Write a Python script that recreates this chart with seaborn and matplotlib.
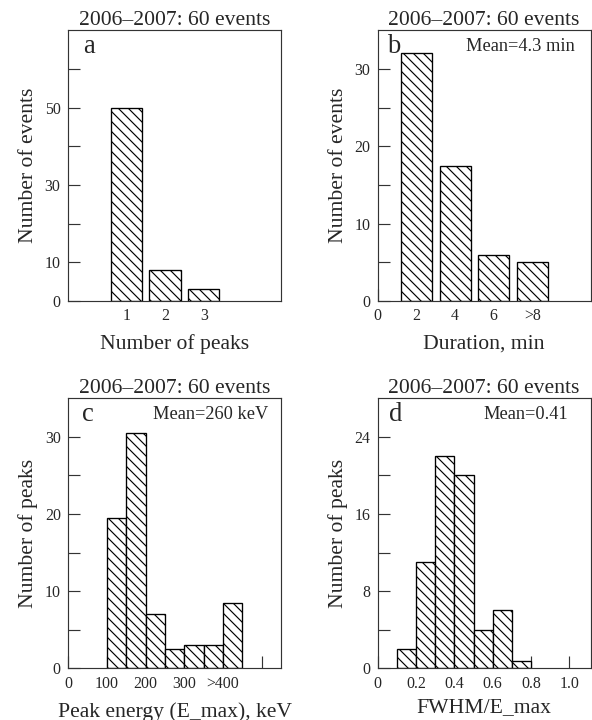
import matplotlib
matplotlib.use("Agg")
import matplotlib.pyplot as plt
import numpy as np
import seaborn as sns

# ---- data -----------------------------------------------------------------
title_text = "2006\u20132007: 60 events"

peak_numbers = [1, 2, 3]
events_per_peak_number = [50, 8, 3]

duration_centers = [2, 4, 6, 8]
events_per_duration = [32, 17.5, 6, 5]
duration_ticks = [0, 2, 4, 6, 8]
duration_tick_labels = ["0", "2", "4", "6", ">8"]

energy_edges = [100, 150, 200, 250, 300, 350, 400, 450]
peaks_per_energy = [19.5, 30.5, 7, 2.5, 3, 3, 8.5]
energy_ticks = [0, 100, 200, 300, 400, 500]
energy_tick_labels = ["0", "100", "200", "300", ">400", ""]

width_edges = [0.1, 0.2, 0.3, 0.4, 0.5, 0.6, 0.7, 0.8]
peaks_per_width = [2, 11, 22, 20, 4, 6, 0.8]
width_ticks = [0, 0.2, 0.4, 0.6, 0.8, 1.0]
width_tick_labels = ["0", "0.2", "0.4", "0.6", "0.8", "1.0"]

# ---- style ----------------------------------------------------------------
sns.set_style("ticks")
plt.rcParams["font.family"] = ["Liberation Serif", "DejaVu Serif"]
plt.rcParams["hatch.linewidth"] = 0.7
plt.rcParams["axes.edgecolor"] = "#333333"
plt.rcParams["axes.linewidth"] = 0.7

DPI = 120
fig = plt.figure(figsize=(592 / DPI, 720 / DPI), dpi=DPI)

ax_a = fig.add_axes([0.115, 0.582, 0.360, 0.376])
ax_b = fig.add_axes([0.638, 0.582, 0.3595, 0.376])
ax_c = fig.add_axes([0.1154, 0.0718, 0.3593, 0.375])
ax_d = fig.add_axes([0.638, 0.0718, 0.3595, 0.375])

bar_style = dict(color="white", edgecolor="black", linewidth=0.8,
                 hatch="\\\\\\\\", alpha=1, stat="count")


def centers(edges):
    e = np.asarray(edges, dtype=float)
    return (e[:-1] + e[1:]) / 2


# a: number of peaks per event
sns.histplot(x=peak_numbers, weights=events_per_peak_number,
             bins=[0.5, 1.5, 2.5, 3.5], shrink=0.81, ax=ax_a, **bar_style)
# b: event duration
sns.histplot(x=duration_centers, weights=events_per_duration,
             bins=[1, 3, 5, 7, 9], shrink=0.8, ax=ax_b, **bar_style)
# c: peak energy
sns.histplot(x=centers(energy_edges), weights=peaks_per_energy,
             bins=energy_edges, shrink=1.0, ax=ax_c, **bar_style)
# d: relative peak width
sns.histplot(x=centers(width_edges), weights=peaks_per_width,
             bins=width_edges, shrink=1.0, ax=ax_d, **bar_style)

# ---- axes -----------------------------------------------------------------
ax_a.set_xlim(-0.5, 5)
ax_a.set_ylim(0, 70)
ax_a.set_xticks(peak_numbers)
ax_a.set_xticklabels([str(p) for p in peak_numbers])
ax_a.set_yticks([0, 10, 20, 30, 40, 50, 60])
ax_a.set_yticklabels(["0", "10", "", "30", "", "50", ""])

ax_b.set_xlim(0, 11)
ax_b.set_ylim(0, 35)
ax_b.set_xticks(duration_ticks)
ax_b.set_xticklabels(duration_tick_labels)
ax_b.set_yticks(np.arange(0, 31, 5))
ax_b.set_yticklabels(["0", "", "10", "", "20", "", "30"])

ax_c.set_xlim(0, 550)
ax_c.set_ylim(0, 35)
ax_c.set_xticks(energy_ticks)
ax_c.set_xticklabels(energy_tick_labels)
ax_c.set_yticks(np.arange(0, 31, 5))
ax_c.set_yticklabels(["0", "", "10", "", "20", "", "30"])

ax_d.set_xlim(0, 1.11)
ax_d.set_ylim(0, 28)
ax_d.set_xticks(width_ticks)
ax_d.set_xticklabels(width_tick_labels)
ax_d.set_yticks(np.arange(0, 25, 4))
ax_d.set_yticklabels(["0", "", "8", "", "16", "", "24"])

panels = [
    (ax_a, "a", 0.10, "Number of peaks", "Number of events", None, 6),
    (ax_b, "b", 0.075, "Duration, min", "Number of events",
     ("Mean=4.3 min", 0.926), 6),
    (ax_c, "c", 0.094, "Peak energy (E_max), keV", "Number of peaks",
     ("Mean=260 keV", 0.94), 6),
    (ax_d, "d", 0.086, "FWHM/E_max", "Number of peaks",
     ("Mean=0.41", 0.894), 4),
]

for ax, letter, lx, xlabel, ylabel, mean, xpad in panels:
    for side in ("top", "right", "bottom", "left"):
        ax.spines[side].set_visible(True)
        ax.spines[side].set_color("#333333")
        ax.spines[side].set_linewidth(0.7)
    ax.tick_params(axis="both", which="both", direction="in", length=7,
                   width=0.7, color="#333333", labelsize=9.5, pad=4.5,
                   top=False, right=False)
    ax.set_title(title_text, fontsize=13, pad=3)
    ax.set_xlabel(xlabel, fontsize=13, labelpad=xpad)
    ax.set_ylabel(ylabel, fontsize=13, labelpad=4)
    ax.text(lx, 0.94, letter, transform=ax.transAxes, fontsize=16,
            ha="center", va="center")
    if mean is not None:
        ax.text(mean[1], 0.94, mean[0], transform=ax.transAxes,
                fontsize=11, ha="right", va="center")

fig.savefig("out.png", dpi=DPI)
